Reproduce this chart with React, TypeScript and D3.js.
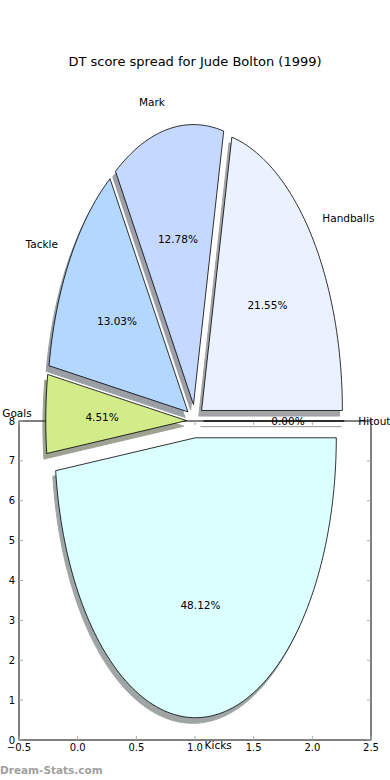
import React from 'react';
import * as d3 from 'd3';

const W = 390;
const H = 780;

const categories = ['Handballs', 'Mark', 'Tackle', 'Goals', 'Kicks', 'Hitout'];
const shares = [21.55, 12.78, 13.03, 4.51, 48.12, 0.0];
const colors = ['#ebf2ff', '#c5d9ff', '#b4d7ff', '#d1ec89', '#dbffff', '#f0f0f0'];
const xTicks = [-0.5, 0, 0.5, 1, 1.5, 2, 2.5];
const yTicks = [0, 1, 2, 3, 4, 5, 6, 7, 8];

// pie placement in data units of the axes
const pieCenter = [1, 8];
const RX = 1.2;
const RY = 7.02;
const explode = 0.06;

const font = '"DejaVu Sans", sans-serif';

const x = d3.scaleLinear().domain([-0.5, 2.5]).range([19, 371]);
const y = d3.scaleLinear().domain([0, 8]).range([740, 421]);

const pt = (cx: number, cy: number, a: number, k: number): [number, number] => [
  x(cx + k * RX * Math.cos(a)),
  y(cy + k * RY * Math.sin(a)),
];

const shade = (c: string) => {
  const r = d3.rgb(c);
  return d3.rgb(r.r * 0.3, r.g * 0.3, r.b * 0.3).toString();
};

export default function App() {
  const arcs = d3
    .pie<number>()
    .sort(null)
    .startAngle(0)
    .endAngle(2 * Math.PI)(shares);

  const line = d3.line();

  const wedge = (a0: number, a1: number, dx: number, dy: number) => {
    const mid = (a0 + a1) / 2;
    const cx = pieCenter[0] + explode * RX * Math.cos(mid) + dx;
    const cy = pieCenter[1] + explode * RY * Math.sin(mid) + dy;
    const n = Math.max(2, Math.ceil(((a1 - a0) / (2 * Math.PI)) * 240));
    const pts: [number, number][] = [[x(cx), y(cy)]];
    for (let i = 0; i <= n; i++) pts.push(pt(cx, cy, a0 + ((a1 - a0) * i) / n, 1));
    return line(pts) + 'Z';
  };

  // matplotlib style: labels measured from the exploded wedge centre
  const labelPos = (a0: number, a1: number, k: number) => {
    const mid = (a0 + a1) / 2;
    const cx = pieCenter[0] + explode * RX * Math.cos(mid);
    const cy = pieCenter[1] + explode * RY * Math.sin(mid);
    return { p: pt(cx, cy, mid, k), c: Math.cos(mid) };
  };

  const tickLen = 4;

  return (
    <svg
      width={W}
      height={H}
      style={{ position: 'absolute', left: 0, top: 0, background: '#fff' }}
      fontFamily={font}
    >
      <text x={195} y={61} textAnchor="middle" dominantBaseline="central" fontSize={13} fill="#000">
        DT score spread for Jude Bolton (1999)
      </text>

      {/* axes frame */}
      <rect x={x(-0.5)} y={y(8)} width={x(2.5) - x(-0.5)} height={y(0) - y(8)} fill="none" stroke="#000" strokeWidth={1} />
      {xTicks.map((t) => (
        <g key={'x' + t}>
          <line x1={x(t)} x2={x(t)} y1={y(0)} y2={y(0) - tickLen} stroke="#aaa" />
          <line x1={x(t)} x2={x(t)} y1={y(8)} y2={y(8) + tickLen} stroke="#aaa" />
          <text x={x(t)} y={744} textAnchor="middle" dominantBaseline="hanging" fontSize={10} fill="#000">
            {d3.format('.1f')(t).replace('-', '\u2212')}
          </text>
        </g>
      ))}
      {yTicks.map((t) => (
        <g key={'y' + t}>
          <line x1={x(-0.5)} x2={x(-0.5) + tickLen} y1={y(t)} y2={y(t)} stroke="#aaa" />
          <line x1={x(2.5)} x2={x(2.5) - tickLen} y1={y(t)} y2={y(t)} stroke="#aaa" />
          <text x={15} y={y(t)} textAnchor="end" dominantBaseline="central" fontSize={10} fill="#000">
            {t}
          </text>
        </g>
      ))}

      {/* shadows */}
      {arcs.map((a, i) => (
        <path
          key={'s' + i}
          d={wedge(a.startAngle, a.endAngle, -0.02 * RX, -0.02 * RY)}
          fill={shade(colors[i])}
          stroke={shade(colors[i])}
          opacity={0.5}
          strokeWidth={1}
        />
      ))}
      {/* wedges */}
      {arcs.map((a, i) => (
        <path
          key={'w' + i}
          d={wedge(a.startAngle, a.endAngle, 0, 0)}
          fill={colors[i]}
          stroke="#000"
          strokeWidth={0.8}
          strokeLinejoin="miter"
        />
      ))}

      {/* labels */}
      {arcs.map((a, i) => {
        const { p, c } = labelPos(a.startAngle, a.endAngle, 1.1);
        return (
          <text
            key={'l' + i}
            x={p[0]}
            y={p[1]}
            textAnchor={c >= 0 ? 'start' : 'end'}
            dominantBaseline="central"
            fontSize={10.5}
            fill="#000"
          >
            {categories[i]}
          </text>
        );
      })}
      {arcs.map((a, i) => {
        const { p } = labelPos(a.startAngle, a.endAngle, 0.6);
        return (
          <text key={'p' + i} x={p[0]} y={p[1]} textAnchor="middle" dominantBaseline="central" fontSize={10.5} fill="#000">
            {d3.format('.2f')(shares[i])}%
          </text>
        );
      })}

      <text x={0} y={770} dominantBaseline="central" fontSize={10.5} fontWeight="bold" fill="#a0a0a0">
        Dream-Stats.com
      </text>
    </svg>
  );
}
